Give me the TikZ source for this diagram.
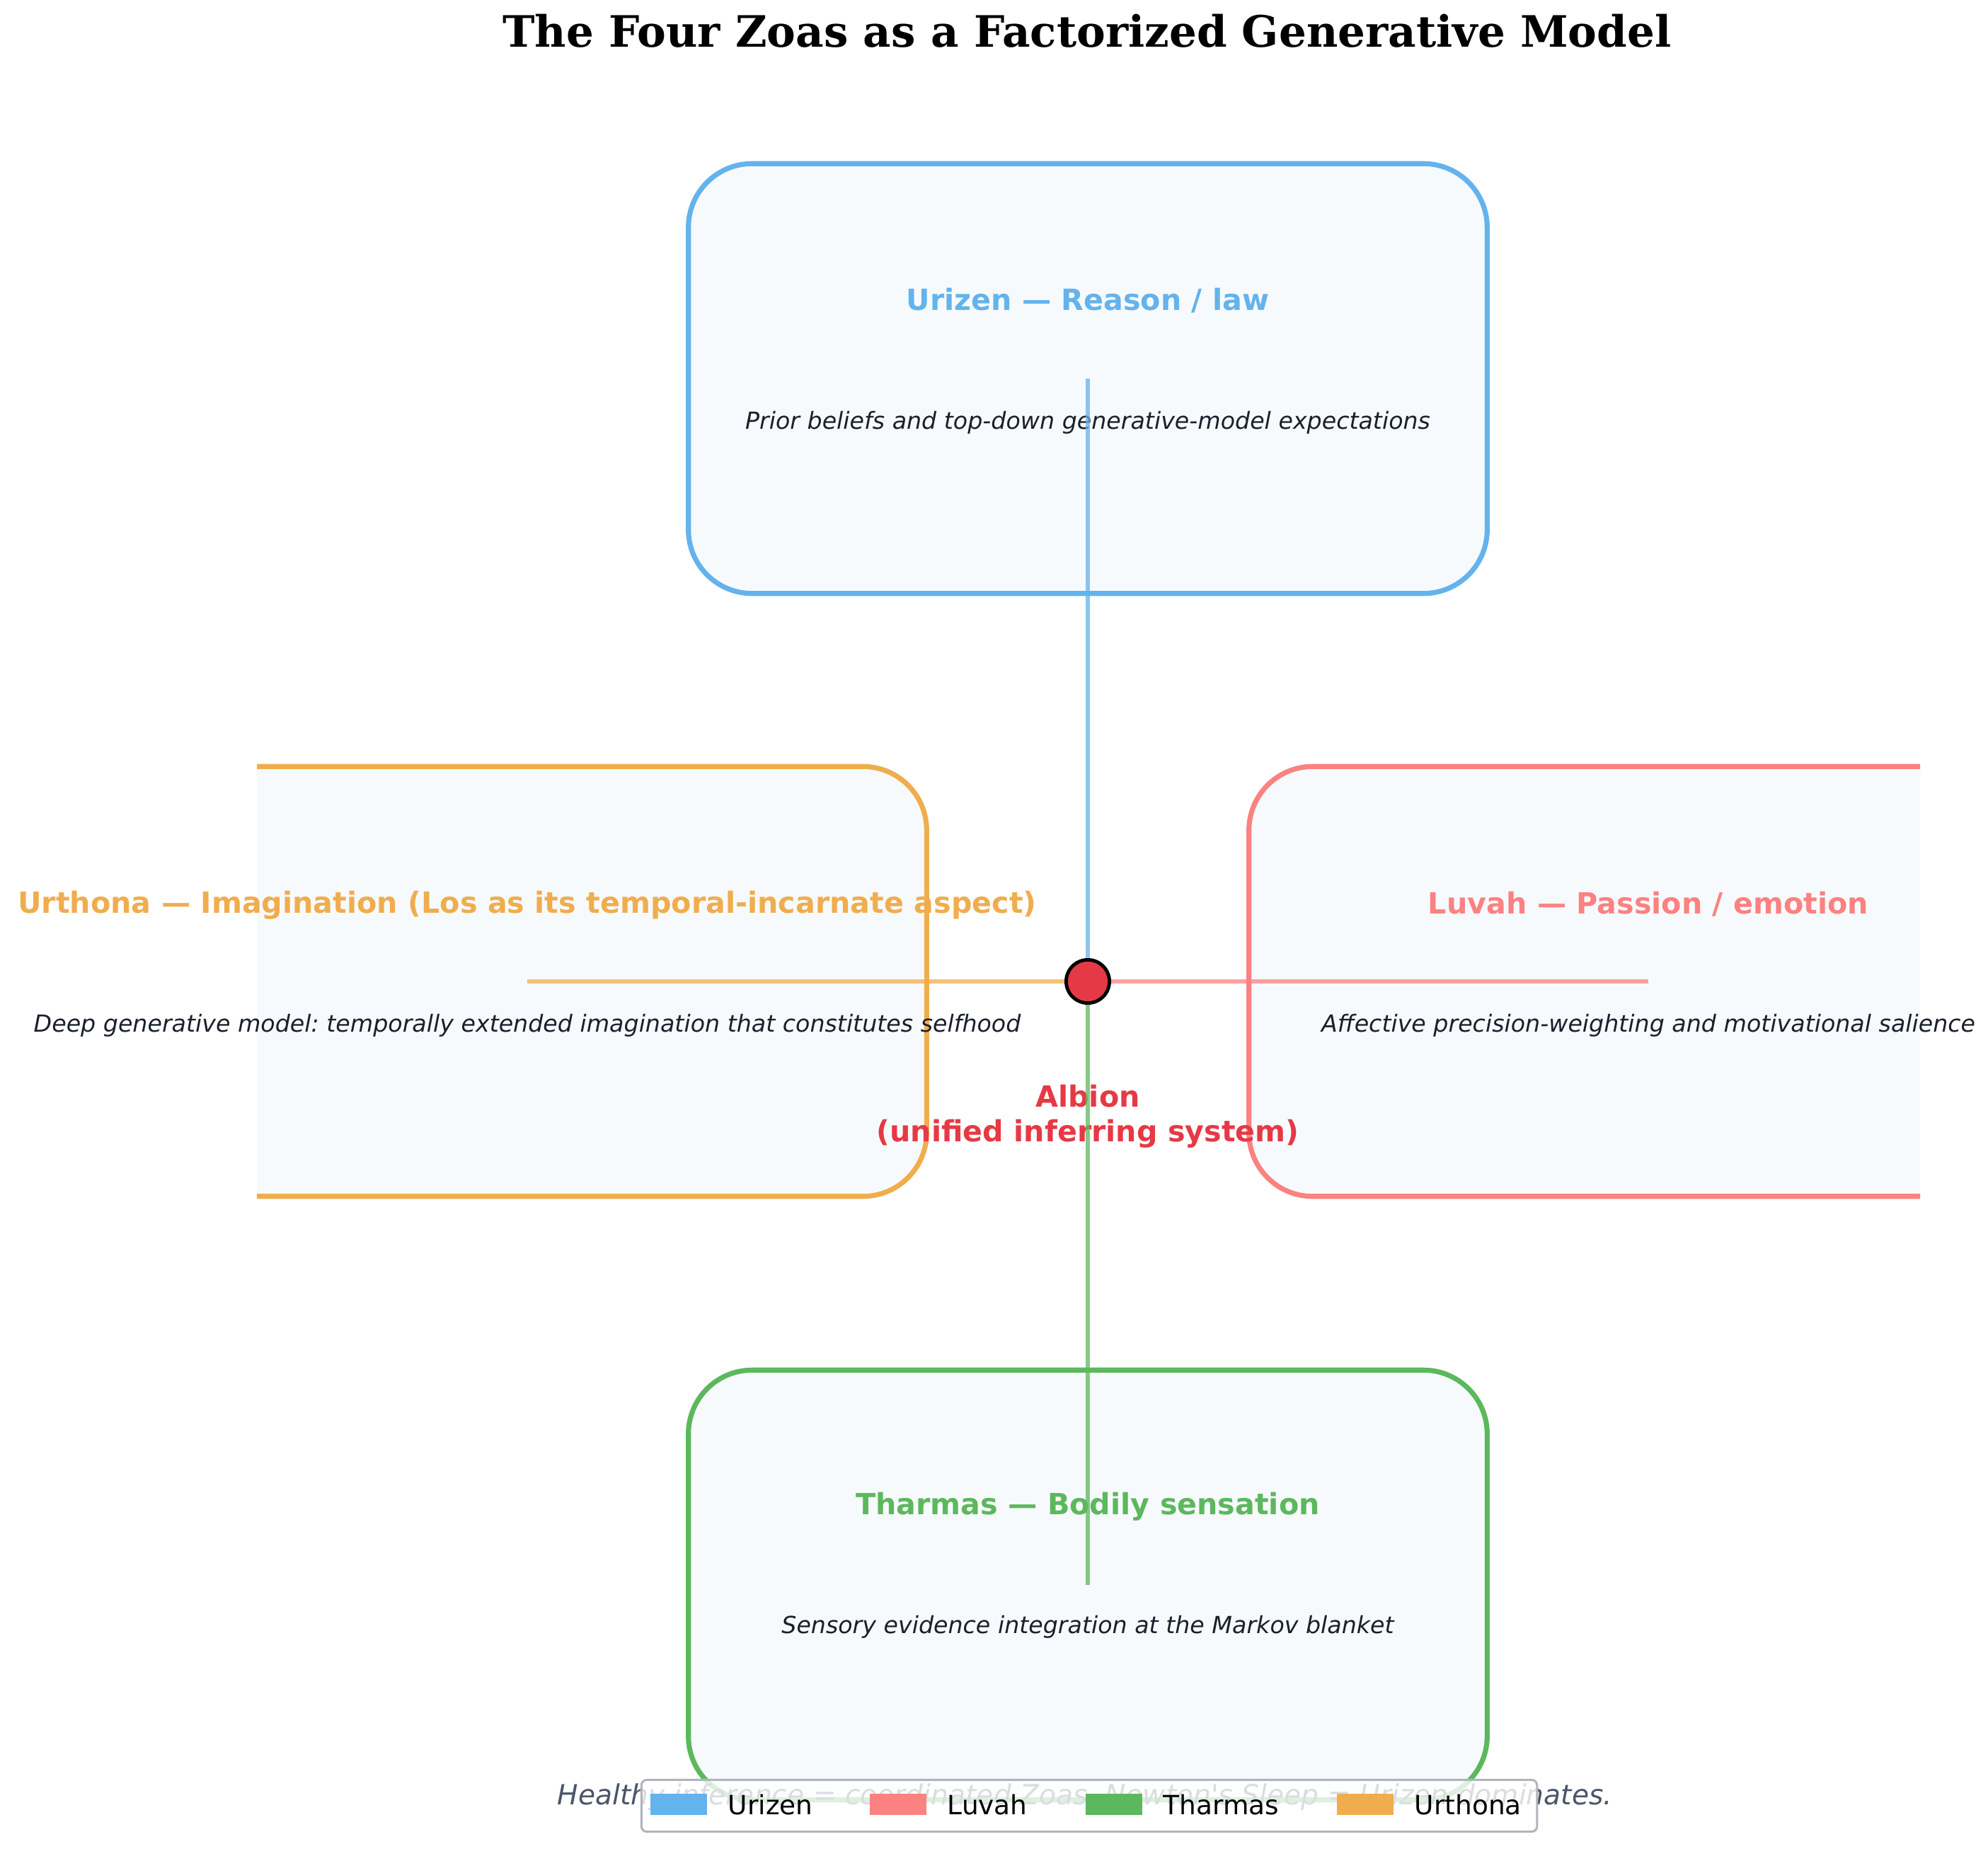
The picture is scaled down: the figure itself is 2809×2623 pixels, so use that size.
\documentclass[tikz,border=0pt]{standalone}
\usepackage{fontspec}
\setmainfont{DejaVu Sans}
\newfontfamily\zoafont{DejaVu Sans}
\newfontfamily\headfont{DejaVu Serif}
\usetikzlibrary{positioning}
\frenchspacing

\definecolor{urizenc}{HTML}{63B3ED}
\definecolor{luvahc}{HTML}{FC8181}
\definecolor{tharmasc}{HTML}{5CB85C}
\definecolor{urthonac}{HTML}{F0AD4E}
\definecolor{albionc}{HTML}{E63946}
\definecolor{ink}{HTML}{1A202C}
\definecolor{footgray}{HTML}{4A5568}
\definecolor{boxfill}{HTML}{F7FAFC}
\definecolor{legendedge}{HTML}{B0B4BC}

\begin{document}
\begin{tikzpicture}[x=0.2667pt, y=-0.2667pt,
    zoabox/.style={fill=boxfill, rounded corners=24pt, minimum width=301pt, minimum height=162pt, line width=1.9pt},
    zoatitle/.style={font=\zoafont\bfseries\fontsize{11}{13.2}\selectfont, anchor=base, inner sep=0pt},
    zoanote/.style={font=\zoafont\itshape\fontsize{8.87}{10.6}\selectfont, text=ink, anchor=base, inner sep=0pt},
    link/.style={line width=1.6pt, draw opacity=0.75},
    key/.style={minimum width=21.4pt, minimum height=8.1pt, inner sep=0pt},
    keytext/.style={font=\zoafont\fontsize{10}{12}\selectfont, anchor=base west, inner sep=0pt}]

    \useasboundingbox (0,0) rectangle (2809,2623);

    \node[font=\headfont\bfseries\fontsize{16.3}{19.5}\selectfont, anchor=base, inner sep=0pt] (title) at (1536,67) {The Four Zoas as a Factorized Generative Model};

    % the four zoas, clipped to the plot area
    \begin{scope}
        \clip (363,0) rectangle (2713,2623);
        \node[zoabox, draw=urizenc] (urizen) at (1537,535) {};
        \node[zoabox, draw=luvahc] (luvah) at (2329,1387) {};
        \node[zoabox, draw=tharmasc] (tharmas) at (1537,2240) {};
        \node[zoabox, draw=urthonac] (urthona) at (745,1387) {};
    \end{scope}

    \node[zoatitle, text=urizenc] (urizentitle) at (1537,439) {Urizen — Reason / law};
    \node[zoanote] (urizennote) at (1537,607) {Prior beliefs and top-down generative-model expectations};
    \node[zoatitle, text=luvahc] (luvahtitle) at (2329,1291) {Luvah — Passion / emotion};
    \node[zoanote] (luvahnote) at (2329,1458) {Affective precision-weighting and motivational salience};
    \node[zoatitle, text=tharmasc] (tharmastitle) at (1537,2140) {Tharmas — Bodily sensation};
    \node[zoanote] (tharmasnote) at (1537,2308) {Sensory evidence integration at the Markov blanket};
    \node[zoatitle, text=urthonac] (urthonatitle) at (745,1290) {Urthona — Imagination (Los as its temporal-incarnate aspect)};
    \node[zoanote] (urthonanote) at (745,1458) {Deep generative model: temporally extended imagination that constitutes selfhood};

    \node[font=\zoafont\bfseries\fontsize{11}{13}\selectfont, text=albionc, align=center, inner sep=0pt] (albionlabel) at (1537,1578) {Albion\\(unified inferring system)};

    \coordinate (albion) at (1537,1387);
    \draw[link, urizenc] (albion) -- (urizen.center);
    \draw[link, luvahc] (albion) -- (luvah.center);
    \draw[link, tharmasc] (albion) -- (tharmas.center);
    \draw[link, urthonac] (albion) -- (urthona.center);
    \node[circle, fill=albionc, draw=black, line width=1.3pt, minimum size=16.3pt, inner sep=0pt] (albioncore) at (albion) {};

    \node[font=\zoafont\itshape\fontsize{10.45}{12.5}\selectfont, text=footgray, anchor=base, inner sep=0pt] (footer) at (1533,2550) {Healthy inference = coordinated Zoas. Newton's Sleep = Urizen dominates.};

    % legend
    \node[draw=legendedge, fill=white, fill opacity=0.8, line width=0.8pt, rounded corners=2pt, minimum width=337.5pt, minimum height=19.5pt, inner sep=0pt] (legend) at (1539,2552) {};
    \foreach \zoa/\col/\x in {Urizen/urizenc/918, Luvah/luvahc/1228, Tharmas/tharmasc/1533, Urthona/urthonac/1888} {
        \node[key, fill=\col, anchor=west] (key\zoa) at (\x,2550) {};
        \node[keytext] (keytext\zoa) at (\x+110,2564) {\zoa};
    }
\end{tikzpicture}
\end{document}
